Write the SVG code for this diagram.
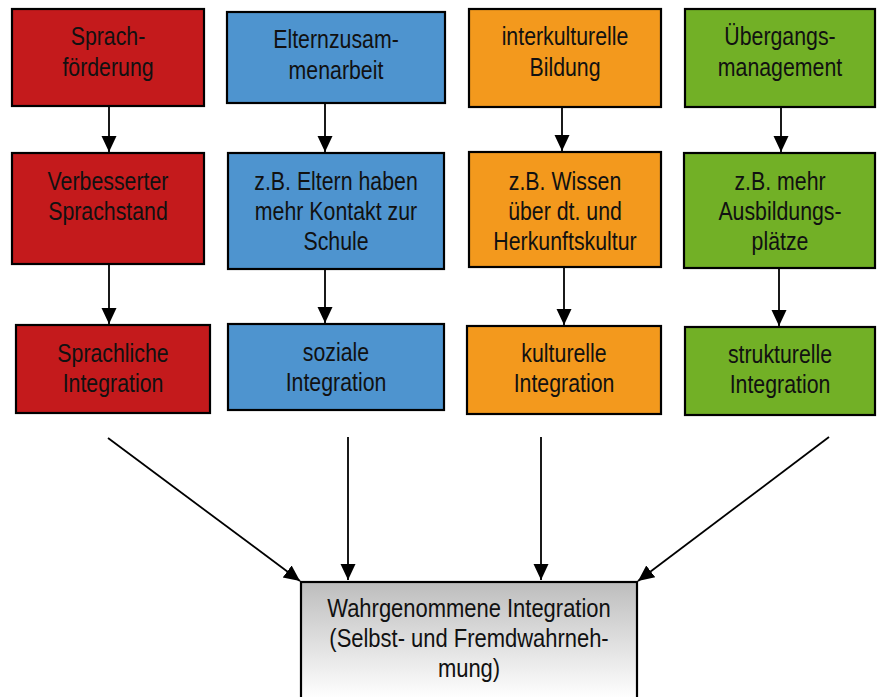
<svg xmlns="http://www.w3.org/2000/svg" width="877" height="697" viewBox="0 0 877 697">
<defs>
<style>
.box{stroke:#000;stroke-width:2.2}
.red{fill:#C41A1C}
.blue{fill:#4E94CF}
.orange{fill:#F3991D}
.green{fill:#72B026}
text{font-family:"Liberation Sans",Arial,sans-serif;font-size:26px;fill:#111;text-anchor:middle}
.conn line{stroke:#000;stroke-width:1.8;fill:none;marker-end:url(#ah)}
</style>
<marker id="ah" markerUnits="userSpaceOnUse" markerWidth="18" markerHeight="18" viewBox="0 0 18 18" refX="16" refY="9" orient="auto">
<path d="M0,1.5 L16,9 L0,16.5 Z" fill="#000"/>
</marker>
<linearGradient id="gray" x1="0" y1="0" x2="0" y2="1">
<stop offset="0" stop-color="#BDBDBD"/>
<stop offset="0.9" stop-color="#FFFFFF"/>
</linearGradient>
</defs>
<rect width="877" height="697" fill="#fff"/>

<g class="conn">
<line x1="109" y1="106" x2="109" y2="152"/>
<line x1="325" y1="103" x2="325" y2="152"/>
<line x1="562" y1="107" x2="562" y2="151"/>
<line x1="781" y1="108" x2="781" y2="152"/>
<line x1="109" y1="265" x2="109" y2="324"/>
<line x1="325" y1="270" x2="325" y2="323"/>
<line x1="564" y1="268" x2="564" y2="325"/>
<line x1="779" y1="269" x2="779" y2="326"/>
<line x1="108" y1="438" x2="300" y2="581"/>
<line x1="348" y1="437" x2="348" y2="580"/>
<line x1="541" y1="437" x2="541" y2="580"/>
<line x1="829" y1="437" x2="638" y2="581"/>
</g>

<g id="n-sprachfoerderung"><rect class="box red" x="12" y="9" width="192" height="97"/><g transform="translate(108,0) scale(0.82,1)"><text x="0" y="45">Sprach-</text><text x="0" y="76">förderung</text></g></g>
<g id="n-elternzusammenarbeit"><rect class="box blue" x="227" y="12" width="218" height="91"/><g transform="translate(336,0) scale(0.82,1)"><text x="0" y="48">Elternzusam-</text><text x="0" y="79">menarbeit</text></g></g>
<g id="n-interkulturelle"><rect class="box orange" x="469" y="9" width="192" height="98"/><g transform="translate(565,0) scale(0.82,1)"><text x="0" y="45">interkulturelle</text><text x="0" y="76">Bildung</text></g></g>
<g id="n-uebergang"><rect class="box green" x="685" y="9" width="190" height="98"/><g transform="translate(780,0) scale(0.82,1)"><text x="0" y="45">Übergangs-</text><text x="0" y="76">management</text></g></g>

<g id="n-sprachstand"><rect class="box red" x="12" y="153" width="192" height="111"/><g transform="translate(108,0) scale(0.82,1)"><text x="0" y="190">Verbesserter</text><text x="0" y="220">Sprachstand</text></g></g>
<g id="n-kontakt"><rect class="box blue" x="228" y="153" width="216" height="116"/><g transform="translate(336,0) scale(0.82,1)"><text x="0" y="190">z.B. Eltern haben</text><text x="0" y="220">mehr Kontakt zur</text><text x="0" y="250">Schule</text></g></g>
<g id="n-wissen"><rect class="box orange" x="469" y="152" width="192" height="115"/><g transform="translate(565,0) scale(0.82,1)"><text x="0" y="190">z.B. Wissen</text><text x="0" y="220">über dt. und</text><text x="0" y="250">Herkunftskultur</text></g></g>
<g id="n-ausbildung"><rect class="box green" x="684" y="153" width="191" height="115"/><g transform="translate(780,0) scale(0.82,1)"><text x="0" y="190">z.B. mehr</text><text x="0" y="220">Ausbildungs-</text><text x="0" y="250">plätze</text></g></g>

<g id="n-sprachlich"><rect class="box red" x="16" y="325" width="194" height="88"/><g transform="translate(113,0) scale(0.82,1)"><text x="0" y="362">Sprachliche</text><text x="0" y="392">Integration</text></g></g>
<g id="n-sozial"><rect class="box blue" x="228" y="324" width="216" height="86"/><g transform="translate(336,0) scale(0.82,1)"><text x="0" y="361">soziale</text><text x="0" y="391">Integration</text></g></g>
<g id="n-kulturell"><rect class="box orange" x="467" y="326" width="194" height="88"/><g transform="translate(564,0) scale(0.82,1)"><text x="0" y="362">kulturelle</text><text x="0" y="392">Integration</text></g></g>
<g id="n-strukturell"><rect class="box green" x="685" y="327" width="190" height="88"/><g transform="translate(780,0) scale(0.82,1)"><text x="0" y="363">strukturelle</text><text x="0" y="393">Integration</text></g></g>

<g id="n-wahrgenommen"><rect class="box" fill="url(#gray)" x="301" y="582" width="336" height="130"/><g transform="translate(469,0) scale(0.845,1)"><text x="0" y="617">Wahrgenommene Integration</text><text x="0" y="647">(Selbst- und Fremdwahrneh-</text><text x="0" y="677">mung)</text></g></g>
</svg>
